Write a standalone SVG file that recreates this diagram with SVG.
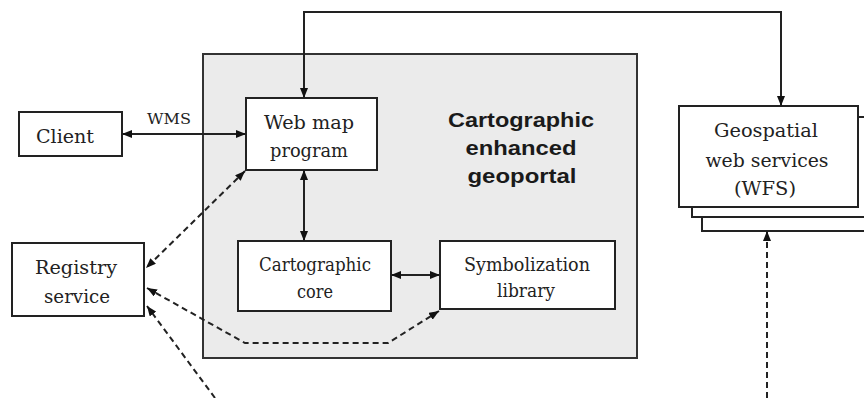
<svg xmlns="http://www.w3.org/2000/svg" width="864" height="398" viewBox="0 0 864 398">
<style>
.bg{fill:#ffffff}
.box{fill:#ffffff;stroke:#222;stroke-width:2}
.portal{fill:#ebebeb;stroke:#333;stroke-width:2}
.t{font-family:"DejaVu Serif","Liberation Serif",serif;font-size:18px;fill:#222;text-anchor:middle}
.tb{font-family:"Liberation Sans",Arial,sans-serif;font-size:20px;font-weight:bold;fill:#1a1a1a;text-anchor:middle}
.c{fill:none;stroke:#222;stroke-width:2}
.d{fill:none;stroke:#222;stroke-width:2;stroke-dasharray:6 4}
</style>
<defs>
<marker id="ah" viewBox="0 0 10 8" refX="10" refY="4" markerWidth="10" markerHeight="8" markerUnits="userSpaceOnUse" orient="auto-start-reverse">
<path d="M0,0 L10,4 L0,8 z" fill="#111"/>
</marker>
</defs>
<rect class="bg" x="0" y="0" width="864" height="398"/>
<g id="portal">
<rect class="portal" x="203" y="54" width="434" height="304"/>
<text class="tb" x="521" y="127" textLength="146" lengthAdjust="spacingAndGlyphs">Cartographic</text>
<text class="tb" x="521" y="155" textLength="111" lengthAdjust="spacingAndGlyphs">enhanced</text>
<text class="tb" x="522" y="183" textLength="109" lengthAdjust="spacingAndGlyphs">geoportal</text>
</g>
<g id="client">
<rect class="box" x="19" y="112" width="103" height="44"/>
<text class="t" x="65" y="143" textLength="58" lengthAdjust="spacingAndGlyphs">Client</text>
</g>
<g id="webmap">
<rect class="box" x="246" y="98" width="131" height="72"/>
<text class="t" x="309" y="129" textLength="90" lengthAdjust="spacingAndGlyphs">Web map</text>
<text class="t" x="309" y="157" textLength="78" lengthAdjust="spacingAndGlyphs">program</text>
</g>
<g id="core">
<rect class="box" x="238" y="241" width="153" height="70"/>
<text class="t" x="315" y="271" textLength="112" lengthAdjust="spacingAndGlyphs">Cartographic</text>
<text class="t" x="315" y="298" textLength="36" lengthAdjust="spacingAndGlyphs">core</text>
</g>
<g id="symbolization">
<rect class="box" x="440" y="241" width="175" height="68"/>
<text class="t" x="527" y="271" textLength="126" lengthAdjust="spacingAndGlyphs">Symbolization</text>
<text class="t" x="526" y="297" textLength="58" lengthAdjust="spacingAndGlyphs">library</text>
</g>
<g id="registry">
<rect class="box" x="12" y="243" width="132" height="73"/>
<text class="t" x="76" y="274" textLength="82" lengthAdjust="spacingAndGlyphs">Registry</text>
<text class="t" x="77" y="303" textLength="66" lengthAdjust="spacingAndGlyphs">service</text>
</g>
<g id="geospatial">
<rect class="box" x="702" y="127" width="180" height="104"/>
<rect class="box" x="692" y="117" width="180" height="100"/>
<rect class="box" x="679" y="106" width="179" height="101"/>
<text class="t" x="766" y="137" textLength="104" lengthAdjust="spacingAndGlyphs">Geospatial</text>
<text class="t" x="767" y="167" textLength="123" lengthAdjust="spacingAndGlyphs">web services</text>
<text class="t" x="765" y="195" textLength="62" lengthAdjust="spacingAndGlyphs">(WFS)</text>
</g>
<g id="connectors">
<polyline class="c" points="304,98 304,12 781,12 781,106" marker-start="url(#ah)" marker-end="url(#ah)"/>
<line class="c" x1="122" y1="134" x2="246" y2="134" marker-start="url(#ah)" marker-end="url(#ah)"/>
<text class="t" x="169" y="124" style="font-size:15px" textLength="44" lengthAdjust="spacingAndGlyphs">WMS</text>
<line class="c" x1="304" y1="170" x2="304" y2="241" marker-start="url(#ah)" marker-end="url(#ah)"/>
<line class="c" x1="391" y1="275" x2="440" y2="275" marker-start="url(#ah)" marker-end="url(#ah)"/>
<line class="d" x1="245" y1="171" x2="146" y2="268" marker-start="url(#ah)" marker-end="url(#ah)"/>
<polyline class="d" points="147,288 245,343 388,343 439,311" marker-start="url(#ah)" marker-end="url(#ah)"/>
<line class="d" x1="215" y1="398" x2="147" y2="306" marker-end="url(#ah)"/>
<line class="d" x1="767" y1="398" x2="767" y2="231" marker-end="url(#ah)"/>
</g>
</svg>
